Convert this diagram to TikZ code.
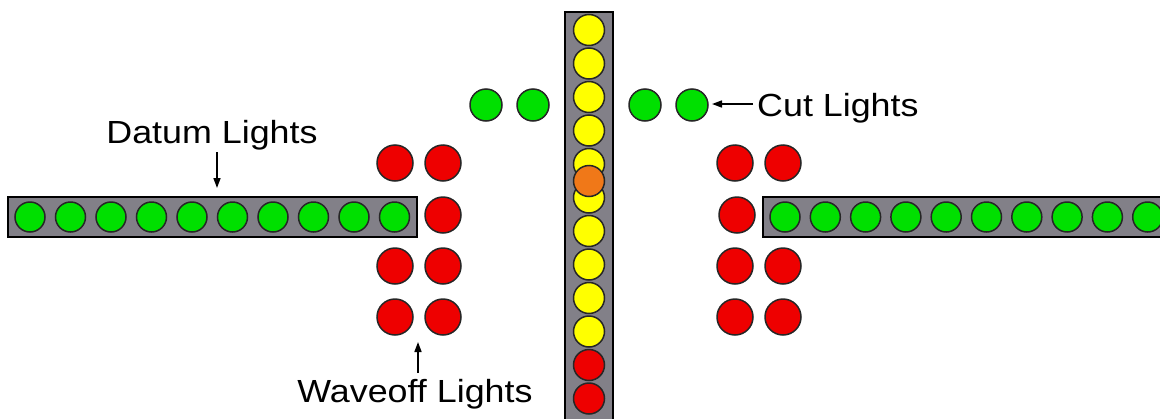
\documentclass[tikz,border=0pt]{standalone}
\usepackage{fontspec}
\setmainfont{Liberation Sans}
\usetikzlibrary{arrows.meta}
\definecolor{lgreen}{HTML}{00E000}
\definecolor{lyellow}{HTML}{FFFF00}
\definecolor{lred}{HTML}{EE0000}
\definecolor{lorange}{HTML}{F07818}
\definecolor{bargray}{HTML}{828088}
\begin{document}
\begin{tikzpicture}[x=1pt,y=-1pt,
  lamp/.style={circle,draw=black!85,line width=1.5pt,inner sep=0pt,minimum size=#1},
  barlamp/.style={lamp=30pt},
  glamp/.style={barlamp,fill=lgreen},
  ylamp/.style={lamp=31pt,fill=lyellow},
  rlamp/.style={lamp=31pt,fill=lred},
  olamp/.style={lamp=31pt,fill=lorange},
  wlamp/.style={lamp=36pt,fill=lred},
  clamp/.style={lamp=32pt,fill=lgreen},
  bar/.style={fill=bargray,draw=black,line width=2.6pt},
  lbl/.style={inner sep=0pt,font=\fontsize{32}{38}\selectfont},
  ptr/.style={line width=1.6pt,-{Triangle[length=10pt,width=7pt]}}]
\useasboundingbox (0,0) rectangle (1160,418);
% bars
\draw[bar] (8,197) rectangle (417,237);
\draw[bar] (763,197) rectangle (1175,237);
\draw[bar] (565,12) rectangle (613,430);
% datum lights left
\foreach \k in {0,...,9}
  \node[glamp] (dl\k) at ({30+40.5*\k},217) {};
% datum lights right
\foreach \k in {0,...,9}
  \node[glamp] (dr\k) at ({785+40.3*\k},217) {};
% vertical lens
\foreach \k in {0,...,9}
  \node[ylamp] (y\k) at (589,{30+33.5*\k}) {};
\node[rlamp] (r0) at (589,365) {};
\node[rlamp] (r1) at (589,398.5) {};
\node[olamp] (ob) at (589,181) {};
% cut lights
\node[clamp] (c1) at (486,105) {};
\node[clamp] (c2) at (533,105) {};
\node[clamp] (c3) at (645,105) {};
\node[clamp] (c4) at (692,105) {};
% waveoff left
\foreach \r/\y in {1/163,3/266,4/317}{
  \node[wlamp] (wla\r) at (395,\y) {};
  \node[wlamp] (wlb\r) at (443,\y) {};}
\node[wlamp] (wlb2) at (443,215) {};
% waveoff right
\foreach \r/\y in {1/163,3/266,4/317}{
  \node[wlamp] (wra\r) at (735,\y) {};
  \node[wlamp] (wrb\r) at (783,\y) {};}
\node[wlamp] (wra2) at (737,215) {};
% labels
\node[lbl,anchor=base] (datum) at (212,143) {\scalebox{1.12}[1]{Datum Lights}};
\node[lbl,anchor=base] (waveoff) at (415,402) {\scalebox{1.12}[1]{Waveoff Lights}};
\node[lbl,anchor=base west] (cut) at (757,116) {\scalebox{1.12}[1]{Cut Lights}};
% arrows
\coordinate (datumtip) at (217,188);
\coordinate (datumtail) at (217,152);
\coordinate (wavetip) at (418,342);
\coordinate (wavetail) at (418,373);
\coordinate (cuttip) at (712,104);
\coordinate (cuttail) at (753,104);
\draw[ptr] (datumtail) -- (datumtip);
\draw[ptr] (wavetail) -- (wavetip);
\draw[ptr] (cuttail) -- (cuttip);
\end{tikzpicture}
\end{document}
